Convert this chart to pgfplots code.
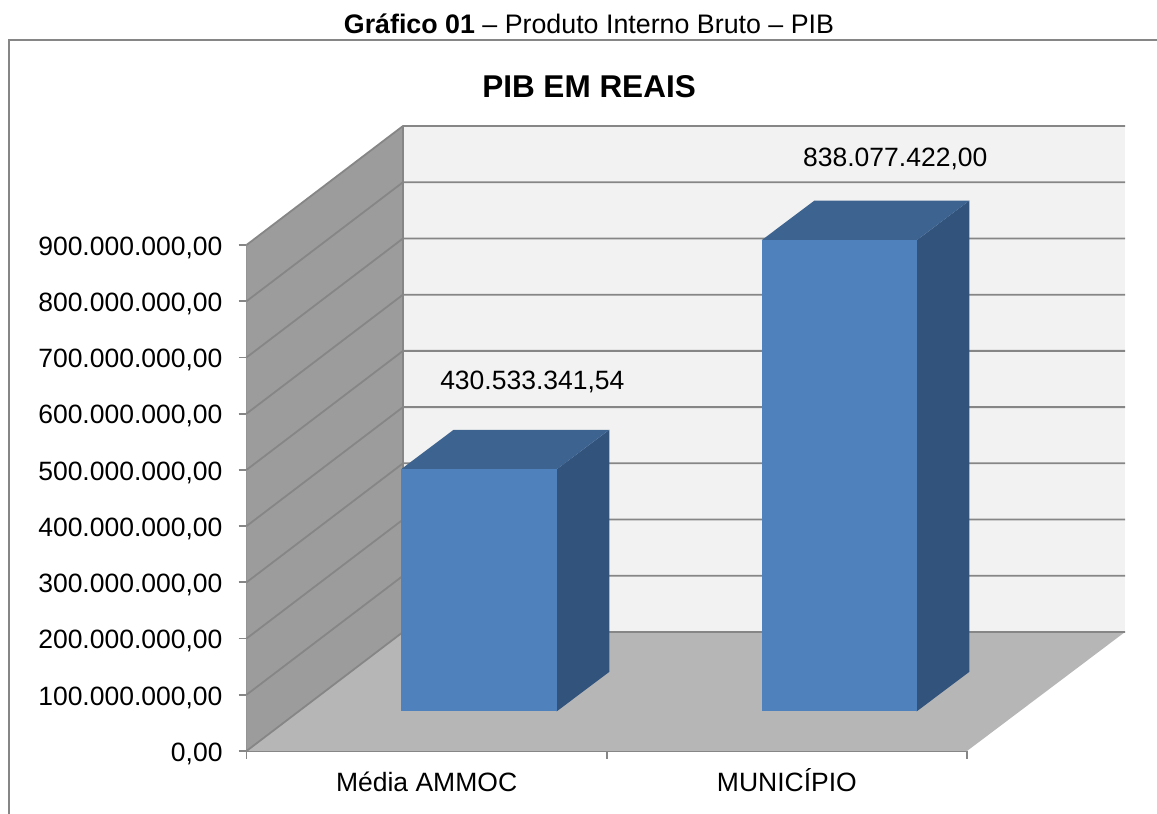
\documentclass[border=0pt]{standalone}
\usepackage{pgfplots}
\pgfplotsset{compat=1.18}
\usepackage{fontspec}
\setmainfont{Liberation Sans}
\definecolor{gridc}{HTML}{868686}
\definecolor{leftwall}{HTML}{9C9C9C}
\definecolor{backwall}{HTML}{F2F2F2}
\definecolor{floorc}{HTML}{B6B6B6}
\definecolor{barfront}{HTML}{4F81BD}
\definecolor{bartop}{HTML}{3D6390}
\definecolor{barside}{HTML}{32537C}
\newcommand{\lab}{\fontsize{26.5}{30}\selectfont}
\begin{document}
\begin{tikzpicture}[x=1pt,y=1pt]
\path[use as bounding box] (0,0) rectangle (1157,814);
\draw[gridc,line width=1.8pt] (9,0) -- (9,774) -- (1157,774);
\node[font=\fontsize{26.8}{30}\selectfont,anchor=base] at (589,780) {\textbf{Gráfico 01} – Produto Interno Bruto – PIB};
\begin{axis}[
  at={(246.5pt,63pt)}, anchor=south west,
  scale only axis, width=720.5pt, height=506pt,
  xmin=0, xmax=2, ymin=0, ymax=900000000,
  clip=false,
  axis x line*=bottom, axis y line*=left,
  axis line style={draw=gridc,line width=1.8pt,-},
  xtick={0.5,1.5}, xticklabels={Média AMMOC,MUNICÍPIO},
  minor xtick={0,1,2},
  ytick={0,100000000,200000000,300000000,400000000,500000000,600000000,700000000,800000000,900000000},
  yticklabels={{0,00},{100.000.000,00},{200.000.000,00},{300.000.000,00},{400.000.000,00},{500.000.000,00},{600.000.000,00},{700.000.000,00},{800.000.000,00},{900.000.000,00}},
  scaled y ticks=false,
  tick align=outside, tick pos=left,
  major tick length=8pt, minor tick length=8pt,
  major x tick style={draw=none},
  minor x tick style={draw=gridc,line width=1.8pt},
  major y tick style={draw=gridc,line width=1.8pt},
  tick label style={font=\lab,text=black},
  yticklabel style={inner sep=0pt,anchor=base east,xshift=-15.8pt,yshift=-10.3pt},
  xticklabel style={inner sep=0pt,anchor=base,yshift=-32.7pt},
  title={\textbf{PIB EM REAIS}},
  title style={at={(axis description cs:0.4754,1.2800)},anchor=base,font=\fontsize{31.5}{36}\selectfont},
]
% walls and floor
\addplot[fill=leftwall,draw=none,mark=none] coordinates {(0,0)(0,900000000)(0.4344,1111660000)(0.4344,211660000)} -- cycle;
\addplot[fill=backwall,draw=none,mark=none] coordinates {(0.4344,211660000)(2.4386,211660000)(2.4386,1111660000)(0.4344,1111660000)} -- cycle;
\addplot[fill=floorc,draw=none,mark=none] coordinates {(0,0)(2,0)(2.4386,211660000)(0.4344,211660000)} -- cycle;
% gridlines
\addplot[gridc,line width=1.8pt,mark=none] coordinates {(0,0)(0.4344,211660000)(2.4386,211660000)};
\addplot[gridc,line width=1.8pt,mark=none] coordinates {(0,100000000)(0.4344,311660000)(2.4386,311660000)};
\addplot[gridc,line width=1.8pt,mark=none] coordinates {(0,200000000)(0.4344,411660000)(2.4386,411660000)};
\addplot[gridc,line width=1.8pt,mark=none] coordinates {(0,300000000)(0.4344,511660000)(2.4386,511660000)};
\addplot[gridc,line width=1.8pt,mark=none] coordinates {(0,400000000)(0.4344,611660000)(2.4386,611660000)};
\addplot[gridc,line width=1.8pt,mark=none] coordinates {(0,500000000)(0.4344,711660000)(2.4386,711660000)};
\addplot[gridc,line width=1.8pt,mark=none] coordinates {(0,600000000)(0.4344,811660000)(2.4386,811660000)};
\addplot[gridc,line width=1.8pt,mark=none] coordinates {(0,700000000)(0.4344,911660000)(2.4386,911660000)};
\addplot[gridc,line width=1.8pt,mark=none] coordinates {(0,800000000)(0.4344,1011660000)(2.4386,1011660000)};
\addplot[gridc,line width=1.8pt,mark=none] coordinates {(0,900000000)(0.4344,1111660000)(2.4386,1111660000)};
\addplot[gridc,line width=1.8pt,mark=none] coordinates {(0.4344,211660000)(0.4344,1111660000)};
% bar 1: 430.533.341,54 standing 70.500.000 above the front edge
\addplot[fill=barside,draw=none,mark=none] coordinates {(0.8611,70500000)(1.0071,140800000)(1.0071,571333341)(0.8611,501033341)} -- cycle;
\addplot[fill=bartop,draw=none,mark=none] coordinates {(0.4289,501033341)(0.8611,501033341)(1.0071,571333341)(0.5749,571333341)} -- cycle;
\addplot[fill=barfront,draw=none,mark=none] coordinates {(0.4289,70500000)(0.8611,70500000)(0.8611,501033341)(0.4289,501033341)} -- cycle;
% bar 2: 838.077.422,00
\addplot[fill=barside,draw=none,mark=none] coordinates {(1.8604,70500000)(2.0064,140800000)(2.0064,978877422)(1.8604,908577422)} -- cycle;
\addplot[fill=bartop,draw=none,mark=none] coordinates {(1.4301,908577422)(1.8604,908577422)(2.0064,978877422)(1.5761,978877422)} -- cycle;
\addplot[fill=barfront,draw=none,mark=none] coordinates {(1.4301,70500000)(1.8604,70500000)(1.8604,908577422)(1.4301,908577422)} -- cycle;
\node[font=\lab,anchor=base] at (axis cs:0.7935,643300000) {430.533.341,54};
\node[font=\lab,anchor=base] at (axis cs:1.8009,1040500000) {838.077.422,00};
\end{axis}
\end{tikzpicture}
\end{document}
